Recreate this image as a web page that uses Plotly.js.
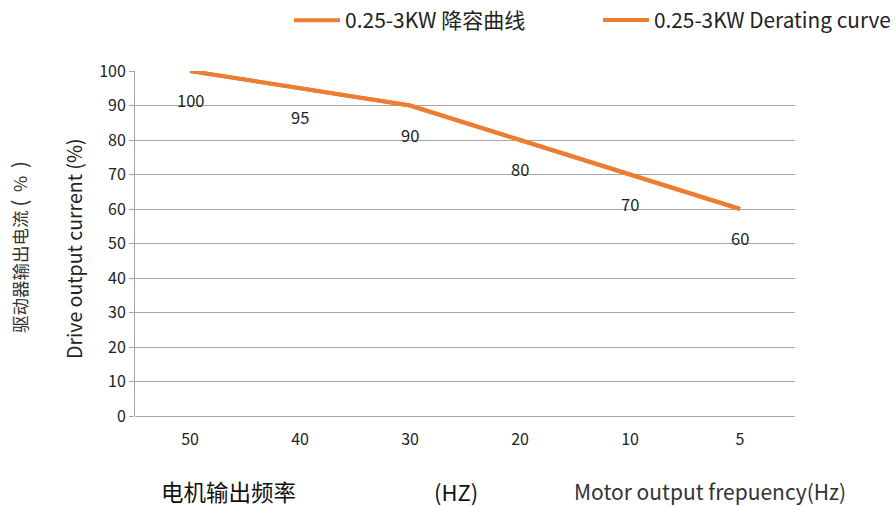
<!DOCTYPE html>
<html><head><meta charset="utf-8">
<script src="https://cdn.plot.ly/plotly-3.0.1.min.js"></script>
<style>html,body{margin:0;padding:0;background:#fff}</style>
</head><body>
<div id="chart" style="width:896px;height:506px"></div>
<script>
const categories = ["50", "40", "30", "20", "10", "5"];
const derating = [100, 95, 90, 80, 70, 60];
const seriesNames = ["0.25-3KW 降容曲线", "0.25-3KW Derating curve"];
const yTicks = [0, 10, 20, 30, 40, 50, 60, 70, 80, 90, 100];

const FONT = '"Noto Sans CJK SC", "Noto Sans", sans-serif';
const ORANGE = '#ED7D31';

const traces = seriesNames.map((n, k) => ({
  type: 'scatter', mode: 'lines', name: n,
  x: categories, y: derating,
  line: {color: ORANGE, width: 4},
  legend: k === 0 ? 'legend' : 'legend2',
  hoverinfo: 'skip'
}));

const annotations = categories.map((c, i) => ({
  x: i, y: derating[i], xref: 'x', yref: 'y',
  text: String(derating[i]), showarrow: false,
  yshift: -29, font: {family: FONT, size: 16.5, color: '#222'}
}));
const bottomY = (416 - 491) / 345;
annotations.push(
  {text: '驱动器输出电流&nbsp;<span style="font-size:20px">(</span>&nbsp;&nbsp;%&nbsp;&nbsp;<span style="font-size:20px">)</span>',
   xref: 'paper', yref: 'paper', x: (18-135)/660, y: (416-247)/345,
   xanchor: 'center', yanchor: 'middle', textangle: -90, showarrow: false,
   font: {family: FONT, size: 17.5, color: '#333'}},
  {text: 'Drive output current (%)', xref: 'paper', yref: 'paper', x: (73-135)/660, y: (416-249)/345,
   xanchor: 'center', yanchor: 'middle', textangle: -90, showarrow: false,
   font: {family: FONT, size: 19.5, color: '#222'}},
  {text: '电机输出频率', xref: 'paper', yref: 'paper', x: (159-135)/660, y: bottomY,
   xanchor: 'left', yanchor: 'middle', showarrow: false,
   font: {family: FONT, size: 22.5, color: '#111'}},
  {text: '(HZ)', xref: 'paper', yref: 'paper', x: (432-135)/660, y: bottomY,
   xanchor: 'left', yanchor: 'middle', showarrow: false,
   font: {family: FONT, size: 22, color: '#111'}},
  {text: 'Motor output frepuency(Hz)', xref: 'paper', yref: 'paper', x: (572-135)/660, y: bottomY,
   xanchor: 'left', yanchor: 'middle', showarrow: false,
   font: {family: FONT, size: 21, color: '#333'}}
);

const legendBase = {orientation: 'h', xanchor: 'left', yref: 'container', y: 1.0, yanchor: 'top',
                    itemwidth: 46, bgcolor: 'rgba(0,0,0,0)'};

const layout = {
  width: 896, height: 506,
  margin: {l: 135, r: 101, t: 71, b: 90},
  paper_bgcolor: '#fff', plot_bgcolor: '#fff',
  font: {family: FONT, color: '#222'},
  showlegend: true,
  legend: Object.assign({}, legendBase, {x: (289-135)/660, font: {family: FONT, size: 21, color: '#222'}}),
  legend2: Object.assign({}, legendBase, {x: (604-135)/660, font: {family: FONT, size: 20.8, color: '#222'}}),
  xaxis: {type: 'category', range: [-0.5, 5.5], showgrid: false, zeroline: false,
          showline: false, ticks: '', tickfont: {family: FONT, size: 16, color: '#222'},
          ticklabelstandoff: 12},
  yaxis: {range: [0, 100], tickvals: yTicks, showgrid: true, gridcolor: '#a6a6a6', gridwidth: 1,
          zeroline: true, zerolinecolor: '#a6a6a6', showline: true, linecolor: '#a6a6a6',
          ticks: 'outside', ticklen: 5, tickcolor: '#a6a6a6',
          tickfont: {family: FONT, size: 16, color: '#222'}},
  annotations: annotations
};

Plotly.newPlot('chart', traces, layout, {displayModeBar: false, staticPlot: true});
</script>
</body></html>
